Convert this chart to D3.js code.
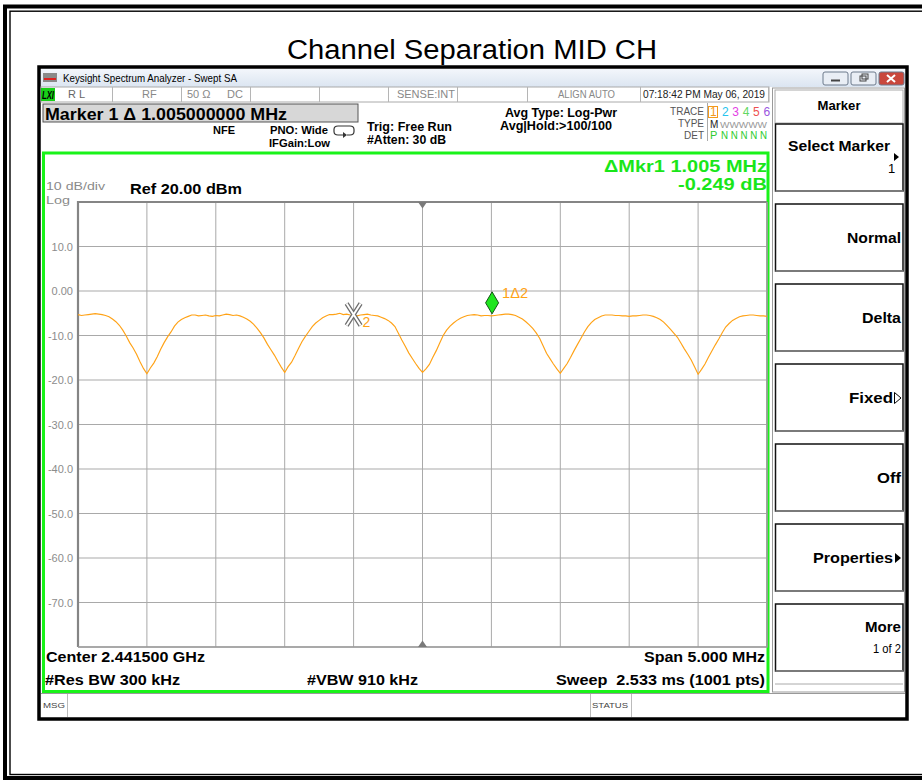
<!DOCTYPE html>
<html><head><meta charset="utf-8">
<script src="https://cdn.jsdelivr.net/npm/d3@7"></script>
<style>
body{margin:0;background:#fff;}
svg{display:block;font-family:"Liberation Sans",Arial,sans-serif;}
</style></head><body>
<svg id="c" width="922" height="780"></svg>
<script>
// ---------------- data ----------------
const chartTitle = "Channel Separation MID CH";
const windowTitle = "Keysight Spectrum Analyzer - Swept SA";
const centerMHz = 2441.5;
const spanMHz = 5.0;
const refLevelDbm = 20;
const dbPerDiv = 10;
// trace 1 (dBm), every 0.025 MHz from 2439.000 to 2444.000 MHz
const traceDb = [
  -5.3,-5.5,-5.4,-5.3,-5.2,-5.1,-5.2,-5.3,-5.5,-5.8,-6.3,-6.9,-7.7,-8.8,-10.1,-11.6,-12.8,-14.2,-15.9,-17.4,
  -18.6,-17.3,-16.2,-14.8,-13.1,-11.6,-10.3,-9.2,-7.9,-7.0,-6.4,-6.0,-5.7,-5.4,-5.4,-5.6,-5.5,-5.4,-5.6,-5.7,
  -5.5,-5.6,-5.4,-5.2,-5.3,-5.5,-5.4,-5.6,-5.9,-6.3,-6.8,-7.5,-8.4,-9.4,-10.6,-12.0,-13.2,-14.4,-15.8,-17.1,
  -18.3,-17.0,-16.0,-14.5,-12.9,-11.4,-10.2,-9.1,-8.0,-7.2,-6.6,-6.0,-5.6,-5.3,-5.3,-5.2,-5.0,-5.3,-5.2,-5.4,
  -5.5,-5.6,-5.4,-5.3,-5.2,-5.4,-5.5,-5.6,-5.9,-6.2,-6.6,-7.2,-8.0,-9.5,-11.0,-12.4,-13.9,-15.1,-16.3,-17.4,
  -18.3,-17.5,-16.5,-14.9,-13.4,-11.7,-10.0,-8.8,-7.9,-7.2,-6.6,-6.1,-5.8,-5.5,-5.4,-5.3,-5.4,-5.6,-5.5,-5.5,
  -5.6,-5.5,-5.4,-5.3,-5.2,-5.2,-5.3,-5.5,-5.9,-6.3,-6.9,-7.6,-8.4,-9.4,-10.6,-12.3,-14.0,-15.2,-16.4,-17.5,
  -18.5,-17.4,-16.3,-14.9,-13.4,-12.0,-10.6,-9.2,-8.0,-7.1,-6.4,-6.0,-5.6,-5.4,-5.4,-5.4,-5.5,-5.5,-5.6,-5.6,
  -5.7,-5.6,-5.6,-5.5,-5.4,-5.4,-5.5,-5.7,-6.0,-6.4,-7.0,-7.8,-8.6,-9.5,-10.4,-11.7,-13.0,-14.2,-15.5,-17.1,
  -18.7,-17.6,-16.4,-14.9,-13.5,-12.1,-10.8,-9.4,-8.1,-7.3,-6.6,-6.2,-5.8,-5.6,-5.5,-5.4,-5.4,-5.5,-5.6,-5.6,
  -5.7
];
const yTickValues = [10, 0, -10, -20, -30, -40, -50, -60, -70];
const yTickLabels = ["10.0", "0.00", "-10.0", "-20.0", "-30.0", "-40.0", "-50.0", "-60.0", "-70.0"];
const marker1MHz = 2442.005;   // delta marker 1
const marker2MHz = 2441.000;   // reference marker 2
const markerHeader = "Marker 1 \u0394 1.005000000 MHz";
const deltaReadout = ["\u0394Mkr1 1.005 MHz", "-0.249 dB"];
const statusCells = ["R L", "RF", "50 \u03a9", "DC", "SENSE:INT", "ALIGN AUTO", "07:18:42 PM May 06, 2019"];
const traceNums = ["1", "2", "3", "4", "5", "6"];
const traceNumColors = ["#f39a1b", "#27c4ee", "#e43ee4", "#62d862", "#ee5050", "#9a55e0"];
const softkeyLabels = ["Select Marker", "Normal", "Delta", "Fixed", "Off", "Properties", "More"];
const bottomLeft = ["Center 2.441500 GHz", "#Res BW 300 kHz"];
const bottomMid = "#VBW 910 kHz";
const bottomRight = ["Span 5.000 MHz", "Sweep  2.533 ms (1001 pts)"];

// ---------------- drawing ----------------
const svg = d3.select("#c");
function txt(g, x, y, s, o = {}) {
  const t = g.append("text").attr("x", x).attr("y", y).text(s)
    .attr("font-size", o.size || 12)
    .attr("font-weight", o.weight || "normal")
    .attr("fill", o.fill || "#000")
    .attr("text-anchor", o.anchor || "start")
    .attr("xml:space", "preserve").style("white-space", "pre");
  if (o.len) t.attr("textLength", o.len).attr("lengthAdjust", "spacingAndGlyphs");
  if (o.style) t.attr("font-style", o.style);
  return t;
}
function line(x1, y1, x2, y2, c, w) {
  svg.append("line").attr("x1", x1).attr("y1", y1).attr("x2", x2).attr("y2", y2)
    .attr("stroke", c).attr("stroke-width", w);
}

// outer frame
svg.append("rect").attr("x", 5).attr("y", 6.5).attr("width", 940).attr("height", 771.5)
  .attr("fill", "none").attr("stroke", "#000").attr("stroke-width", 4);
svg.append("rect").attr("x", 10).attr("y", 11.2).attr("width", 940).attr("height", 763.3)
  .attr("fill", "none").attr("stroke", "#000").attr("stroke-width", 1.4);

// title
txt(svg, 472, 59, chartTitle, {size: 27, anchor: "middle", len: 370});

// analyzer window
svg.append("rect").attr("x", 39).attr("y", 67).attr("width", 868).attr("height", 652)
  .attr("fill", "#fff").attr("stroke", "#000").attr("stroke-width", 3.5);

const defs = svg.append("defs");
const gr = defs.append("linearGradient").attr("id", "tb").attr("x1", 0).attr("y1", 0).attr("x2", 0).attr("y2", 1);
gr.append("stop").attr("offset", 0).attr("stop-color", "#f3f6fb");
gr.append("stop").attr("offset", 1).attr("stop-color", "#dbe5f1");
svg.append("rect").attr("x", 41).attr("y", 69).attr("width", 864).attr("height", 18).attr("fill", "url(#tb)");
svg.append("rect").attr("x", 43).attr("y", 73).attr("width", 14).attr("height", 9).attr("fill", "#8a8a8a");
svg.append("rect").attr("x", 44).attr("y", 78).attr("width", 12).attr("height", 2).attr("fill", "#d22");
txt(svg, 63, 82, windowTitle, {size: 11, len: 174});
const wb = [[823, 25, "#e9eef5"], [851, 25, "#e9eef5"], [879, 25, "#c9473c"]];
wb.forEach(([bx, bw, c]) => {
  svg.append("rect").attr("x", bx).attr("y", 72).attr("width", bw).attr("height", 13).attr("rx", 2)
    .attr("fill", c).attr("stroke", "#6d7a8c").attr("stroke-width", 1);
});
line(831, 80.5, 840, 80.5, "#444", 2);
svg.append("rect").attr("x", 860).attr("y", 76).attr("width", 6).attr("height", 5).attr("fill", "none").attr("stroke", "#444");
svg.append("rect").attr("x", 862).attr("y", 74).attr("width", 6).attr("height", 5).attr("fill", "none").attr("stroke", "#444");
line(887, 75, 895, 82, "#fff", 2); line(895, 75, 887, 82, "#fff", 2);

// status row
svg.append("rect").attr("x", 41).attr("y", 87).attr("width", 728).attr("height", 15)
  .attr("fill", "#fff").attr("stroke", "#aaa").attr("stroke-width", 1);
[112, 181, 250, 319, 388, 457, 527, 640, 768].forEach(sx => line(sx + 0.5, 87, sx + 0.5, 102, "#b5b5b5", 1));
svg.append("rect").attr("x", 41).attr("y", 88).attr("width", 14).attr("height", 13).attr("fill", "#18d018");
txt(svg, 42, 99, "LXI", {size: 10, weight: "bold", style: "italic", len: 12});
const sg = svg.append("g");
txt(sg, 68, 98, statusCells[0], {size: 11, fill: "#666"});
txt(sg, 142, 98, statusCells[1], {size: 11, fill: "#888"});
txt(sg, 187, 98, statusCells[2], {size: 11, fill: "#888"});
txt(sg, 227, 98, statusCells[3], {size: 11, fill: "#888"});
txt(sg, 455, 98, statusCells[4], {size: 11, fill: "#888", anchor: "end"});
txt(sg, 558, 98, statusCells[5], {size: 11, fill: "#888", len: 57});
txt(sg, 643, 98, statusCells[6], {size: 11, fill: "#222", len: 122});

// marker header box
svg.append("rect").attr("x", 43).attr("y", 104).attr("width", 315).attr("height", 18)
  .attr("fill", "#d7d7d7").attr("stroke", "#555").attr("stroke-width", 1);
txt(svg, 45, 120, markerHeader, {size: 16, weight: "bold", len: 242});
txt(svg, 213, 134, "NFE", {size: 11.5, weight: "bold", len: 22});
txt(svg, 270, 134, "PNO: Wide", {size: 11.5, weight: "bold", len: 58});
txt(svg, 269, 147, "IFGain:Low", {size: 11.5, weight: "bold", len: 61});
svg.append("path").attr("d", "M343 135 L338 135 Q334 135 334 131.5 L334 129.5 Q334 126 338 126 L350 126 Q354 126 354 129.5 L354 131.5 Q354 135 350 135 L347 135")
  .attr("fill", "none").attr("stroke", "#333").attr("stroke-width", 1.2);
svg.append("path").attr("d", "M343 132 L347 135 L343 138 Z").attr("fill", "#333");
txt(svg, 367, 131, "Trig: Free Run", {size: 12, weight: "bold", len: 85});
txt(svg, 367, 144, "#Atten: 30 dB", {size: 12, weight: "bold", len: 79});
txt(svg, 505, 117, "Avg Type: Log-Pwr", {size: 12, weight: "bold", len: 112});
txt(svg, 500, 130, "Avg|Hold:>100/100", {size: 12, weight: "bold", len: 112});
txt(svg, 704, 115, "TRACE", {size: 10, fill: "#555", anchor: "end"});
txt(svg, 704, 127, "TYPE", {size: 10, fill: "#555", anchor: "end"});
txt(svg, 704, 139, "DET", {size: 10, fill: "#555", anchor: "end"});
line(707.5, 103, 707.5, 141, "#aaa", 1);
svg.append("rect").attr("x", 708.5).attr("y", 106.5).attr("width", 9).attr("height", 11)
  .attr("fill", "none").attr("stroke", traceNumColors[0]).attr("stroke-width", 1);
traceNums.forEach((n, i) => txt(svg, 710 + i * 10.4 + (i ? 1.5 : 0), 116, n, {size: 12, fill: traceNumColors[i]}));
txt(svg, 710, 128, "M", {size: 10, fill: "#222"});
txt(svg, 720, 128, "WWWWW", {size: 9, fill: "#999", len: 47});
txt(svg, 710, 139, "P", {size: 11, fill: "#2ecc2e"});
txt(svg, 721, 139, "N N N N N", {size: 11, fill: "#2ecc2e", len: 46});

// right softkey panel
svg.append("rect").attr("x", 772.5).attr("y", 88).attr("width", 132).attr("height", 604)
  .attr("fill", "#fff").attr("stroke", "#9a9a9a").attr("stroke-width", 1);
svg.append("rect").attr("x", 775).attr("y", 90).attr("width", 128).attr("height", 33)
  .attr("fill", "#fff").attr("stroke", "#aaa").attr("stroke-width", 1);
txt(svg, 839, 110, "Marker", {size: 13, weight: "bold", anchor: "middle", len: 43});
const keyTop = i => 124 + 80 * i;
for (let i = 0; i < 7; i++) {
  const t = keyTop(i);
  svg.append("rect").attr("x", 775.5).attr("y", t).attr("width", 127.5).attr("height", 67)
    .attr("fill", "#fff").attr("stroke", "#111").attr("stroke-width", 1.5);
  line(775.5, t + 67, 903, t + 67, "#8a8a8a", 1.5);
}
line(775, 684, 903, 684, "#aaa", 1);
txt(svg, 890, 151, softkeyLabels[0], {size: 15, weight: "bold", anchor: "end", len: 102});
svg.append("path").attr("d", "M894 153 L899 157 L894 161 Z").attr("fill", "#000");
txt(svg, 888, 173, "1", {size: 13});
txt(svg, 901, 243, softkeyLabels[1], {size: 15, weight: "bold", anchor: "end", len: 54});
txt(svg, 901, 323, softkeyLabels[2], {size: 15, weight: "bold", anchor: "end", len: 39});
txt(svg, 893, 403, softkeyLabels[3], {size: 15, weight: "bold", anchor: "end", len: 44});
svg.append("path").attr("d", "M894.5 392.5 L901 398 L894.5 403.5 Z").attr("fill", "none").attr("stroke", "#000").attr("stroke-width", 1);
txt(svg, 901, 483, softkeyLabels[4], {size: 15, weight: "bold", anchor: "end", len: 24});
txt(svg, 893, 563, softkeyLabels[5], {size: 15, weight: "bold", anchor: "end", len: 80});
svg.append("path").attr("d", "M895 553 L901 558 L895 563 Z").attr("fill", "#000");
txt(svg, 901, 632, softkeyLabels[6], {size: 15, weight: "bold", anchor: "end", len: 36});
txt(svg, 901, 653, "1 of 2", {size: 13, anchor: "end", len: 28});

// MSG bar
line(41, 693.5, 905, 693.5, "#999", 1);
line(67.5, 694, 67.5, 717, "#bbb", 1);
line(590.5, 694, 590.5, 717, "#bbb", 1);
line(631.5, 694, 631.5, 717, "#bbb", 1);
txt(svg, 43, 708, "MSG", {size: 8, fill: "#444", len: 22});
txt(svg, 592, 708, "STATUS", {size: 8, fill: "#444", len: 36});

// display (green frame)
svg.append("rect").attr("x", 43.5).attr("y", 153).attr("width", 724.5).attr("height", 538.5)
  .attr("fill", "#fff").attr("stroke", "#19f319").attr("stroke-width", 3);

// scales
const x = d3.scaleLinear().domain([centerMHz - spanMHz / 2, centerMHz + spanMHz / 2]).range([78, 767]);
const y = d3.scaleLinear().domain([refLevelDbm - 10 * dbPerDiv, refLevelDbm]).range([647, 202]);

const plot = svg.append("g");
x.ticks(10).forEach(v => plot.append("line").attr("x1", x(v)).attr("x2", x(v)).attr("y1", 202).attr("y2", 647)
  .attr("stroke", "#a9a9a9").attr("stroke-width", 1));
y.ticks(10).forEach(v => plot.append("line").attr("y1", y(v)).attr("y2", y(v)).attr("x1", 78).attr("x2", 767)
  .attr("stroke", "#a9a9a9").attr("stroke-width", 1));
plot.append("path").attr("d", `M${x.range()[0]} ${y.range()[0]} L${x.range()[0]} ${y.range()[1]} L${x.range()[1]} ${y.range()[1]}`)
  .attr("fill", "none").attr("stroke", "#858585").attr("stroke-width", 2.2);
plot.append("path").attr("d", `M${x.range()[0]} ${y.range()[0]} L${x.range()[1]} ${y.range()[0]} L${x.range()[1]} ${y.range()[1]}`)
  .attr("fill", "none").attr("stroke", "#9a9a9a").attr("stroke-width", 1.5);

// y axis labels
const ax = plot.append("g").attr("transform", "translate(78,0)")
  .call(d3.axisLeft(y).tickValues(yTickValues).tickFormat((d, i) => yTickLabels[i]).tickSize(0).tickPadding(5));
ax.select(".domain").remove();
ax.selectAll("text").attr("font-family", "Liberation Sans, Arial, sans-serif").attr("font-size", 11).attr("fill", "#8c8c8c");

// center triangles
const cx = x(centerMHz);
plot.append("path").attr("d", `M${cx - 4.5} 202 L${cx + 4.5} 202 L${cx} 208.5 Z`).attr("fill", "#7a7a7a");
plot.append("path").attr("d", `M${cx - 4.5} 647 L${cx + 4.5} 647 L${cx} 640.5 Z`).attr("fill", "#7a7a7a");

// annotations in display
txt(svg, 46, 190, "10 dB/div", {size: 11.5, fill: "#8a8a8a", len: 59});
txt(svg, 46, 203.5, "Log", {size: 11.5, fill: "#8a8a8a", len: 24});
txt(svg, 130, 194, "Ref 20.00 dBm", {size: 15, weight: "bold", len: 112});
txt(svg, 767, 172, deltaReadout[0], {size: 17, weight: "bold", fill: "#19e619", anchor: "end", len: 163});
txt(svg, 767, 190, deltaReadout[1], {size: 17, weight: "bold", fill: "#19e619", anchor: "end", len: 89});

// trace
const n = traceDb.length;
const startMHz = centerMHz - spanMHz / 2, stepMHz = spanMHz / (n - 1);
const pts = traceDb.map((d, i) => [startMHz + i * stepMHz, d]);
plot.append("path").datum(pts)
  .attr("d", d3.line().x(d => x(d[0])).y(d => y(d[1])))
  .attr("fill", "none").attr("stroke", "#ffa216").attr("stroke-width", 1.15);

function traceAt(f) {
  const p = (f - startMHz) / stepMHz, i = Math.min(n - 2, Math.floor(p)), t = p - i;
  return traceDb[i] * (1 - t) + traceDb[i + 1] * t;
}

// marker 2 (X)
const m2x = x(marker2MHz), m2y = y(traceAt(marker2MHz)) - 1;
const xp = `M${m2x - 7} ${m2y - 11} L${m2x + 7} ${m2y + 11} M${m2x + 7} ${m2y - 11} L${m2x - 7} ${m2y + 11}`;
plot.append("path").attr("d", xp).attr("stroke", "#6e6e6e").attr("stroke-width", 4.5).attr("fill", "none");
plot.append("path").attr("d", xp).attr("stroke", "#fff").attr("stroke-width", 2).attr("fill", "none");
txt(svg, m2x + 9, m2y + 13, "2", {size: 14, fill: "#ffa216"});

// marker 1 (diamond)
const m1x = x(marker1MHz), m1y = y(traceAt(marker1MHz)) - 13;
plot.append("path").attr("d", `M${m1x} ${m1y - 11} L${m1x + 6.5} ${m1y} L${m1x} ${m1y + 11} L${m1x - 6.5} ${m1y} Z`)
  .attr("fill", "#1ee61e").attr("stroke", "#145214").attr("stroke-width", 1);
txt(svg, m1x + 10, m1y - 5, "1\u03942", {size: 14, fill: "#ffa216", len: 26});

// bottom texts
txt(svg, 46, 662, bottomLeft[0], {size: 14, weight: "bold", len: 159});
txt(svg, 45, 685, bottomLeft[1], {size: 14, weight: "bold", len: 135});
txt(svg, 307, 685, bottomMid, {size: 14, weight: "bold", len: 111});
txt(svg, 765, 662, bottomRight[0], {size: 14, weight: "bold", anchor: "end", len: 121});
txt(svg, 765, 685, bottomRight[1], {size: 14, weight: "bold", anchor: "end", len: 209});
</script>
</body></html>
